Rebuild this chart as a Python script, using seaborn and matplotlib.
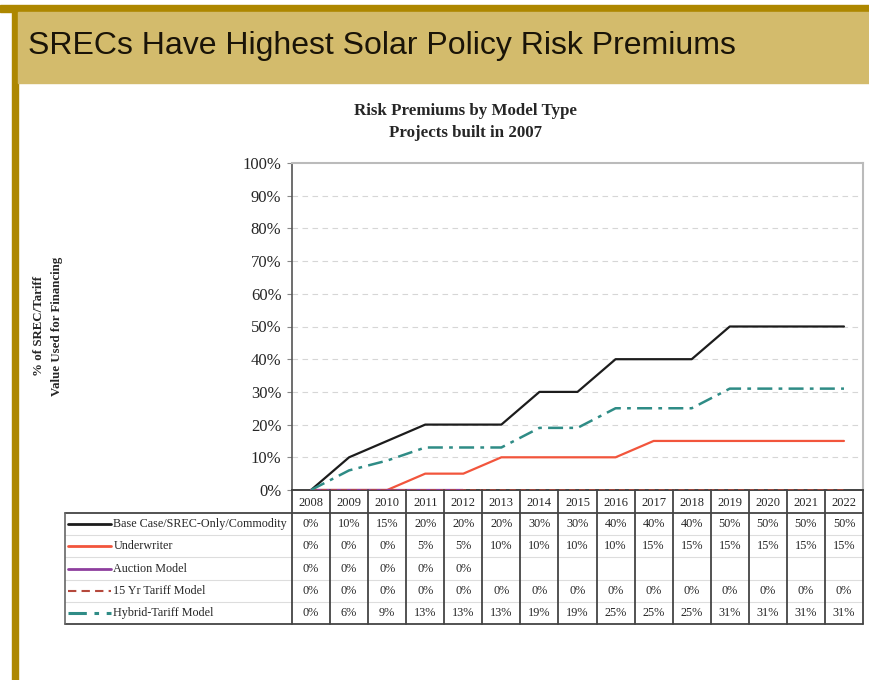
import numpy as np
import pandas as pd
import matplotlib
matplotlib.use("Agg")
import matplotlib.pyplot as plt
import seaborn as sns
from matplotlib.patches import Rectangle
from matplotlib.lines import Line2D

# --- data ---
years = [2008, 2009, 2010, 2011, 2012, 2013, 2014, 2015,
         2016, 2017, 2018, 2019, 2020, 2021, 2022]
base_case = [0, 10, 15, 20, 20, 20, 30, 30, 40, 40, 40, 50, 50, 50, 50]
underwriter = [0, 0, 0, 5, 5, 10, 10, 10, 10, 15, 15, 15, 15, 15, 15]
auction = [0, 0, 0, 0, 0]
tariff_15yr = [0, 0, 0, 0, 0, 0, 0, 0, 0, 0, 0, 0, 0, 0, 0]
hybrid = [0, 6, 9, 13, 13, 13, 19, 19, 25, 25, 25, 31, 31, 31, 31]

series_names = ["Base Case/SREC-Only/Commodity", "Underwriter", "Auction Model",
                "15 Yr Tariff Model", "Hybrid-Tariff Model"]
series_values = [base_case, underwriter, auction, tariff_15yr, hybrid]
series_colors = ["#1c1c1c", "#f2553c", "#8e3f9e", "#b5483c", "#2f8c86"]
series_dashes = ["solid", "solid", "solid", (0, (4, 2.5)), (0, (6, 2.5, 1.5, 2.5))]
series_widths = [1.6, 1.6, 1.6, 1.1, 1.8]

W, H = 870, 680


def fx(px):
    return px / W


def fy(py):
    return 1 - py / H


sns.set_style("white")
plt.rcParams["font.family"] = ["Liberation Serif", "DejaVu Serif"]

fig = plt.figure(figsize=(8.7, 6.8), dpi=100)

# gold header decorations
fig.patches.append(Rectangle((0, fy(12)), 1, fy(5) - fy(12), transform=fig.transFigure,
                             color="#ad8700", zorder=0))
fig.patches.append(Rectangle((fx(12), 0), fx(6), fy(12), transform=fig.transFigure,
                             color="#ad8700", zorder=0))
fig.patches.append(Rectangle((fx(18), fy(83)), 1 - fx(18), fy(12) - fy(83),
                             transform=fig.transFigure, color="#d3bb6c", zorder=0))
fig.text(fx(28), fy(46), "SRECs Have Highest Solar Policy Risk Premiums",
         family="Liberation Sans", fontsize=23, color="#1a1408", va="center", ha="left")

# chart axes
x0, x1 = 292, 863
ax = fig.add_axes([fx(x0), fy(490), fx(x1 - x0), fy(163) - fy(490)])
xpos = np.arange(len(years))
for name, vals, col, ls, lw in zip(series_names, series_values, series_colors,
                                   series_dashes, series_widths):
    df = pd.DataFrame({"x": xpos[:len(vals)], "y": vals})
    sns.lineplot(data=df, x="x", y="y", ax=ax, color=col, linestyle=ls, linewidth=lw,
                 zorder=3)

ax.set_xlim(-0.5, len(years) - 0.5)
ax.set_ylim(0, 100)
ax.set_xticks([])
ax.set_yticks(np.arange(0, 101, 10))
ax.set_yticklabels([f"{v}%" for v in range(0, 101, 10)], fontsize=12)
ax.tick_params(axis="y", left=True, length=3.6, color="#888888", pad=4)
for v in range(10, 100, 10):
    ax.axhline(v, color="#d6d6d6", lw=0.8, ls=(0, (5, 4)), zorder=1)
ax.set_xlabel("")
ax.set_ylabel("")
for s in ["top", "right"]:
    ax.spines[s].set_color("#bbbbbb")
    ax.spines[s].set_linewidth(1.5)
ax.spines["left"].set_color("#555555")
ax.spines["left"].set_linewidth(1.2)
ax.spines["bottom"].set_color("#222222")
ax.spines["bottom"].set_linewidth(1.2)

fig.text(fx(466), fy(122), "Risk Premiums by Model Type\nProjects built in 2007",
         ha="center", va="center", fontsize=12.2, fontweight="bold", linespacing=1.55)
fig.text(fx(48), fy(326), "% of SREC/Tariff\nValue Used for Financing", rotation=90,
         ha="center", va="center", fontsize=9.3, fontweight="bold", linespacing=1.6)

# data table
tab = fig.add_axes([fx(x0), fy(624), fx(x1 - x0), fy(490) - fy(624)])
tab.set_xlim(-0.5, len(years) - 0.5)
tab.set_ylim(624, 490)
tab.axis("off")
colw = (x1 - x0) / len(years)
xl = -0.5 - (x0 - 65) / colw
hdr_bot = 513
rowh = (624 - hdr_bot) / 5

for i, yr in enumerate(years):
    tab.text(i, (490 + hdr_bot) / 2 + 1, str(yr), ha="center", va="center", fontsize=9)
for r, (name, vals, col, ls, lw) in enumerate(zip(series_names, series_values, series_colors,
                                                  series_dashes, series_widths)):
    yc = hdr_bot + rowh * (r + 0.5)
    for i, v in enumerate(vals):
        tab.text(i, yc, f"{v}%", ha="center", va="center", fontsize=8.8)
    tab.add_line(Line2D([xl + 0.08, xl + 1.2], [yc, yc], color=col, linestyle=ls,
                        linewidth=lw + 0.4, clip_on=False))
    tab.text(xl + 1.27, yc, name, ha="left", va="center", fontsize=8.7, clip_on=False)
    if r > 0:
        tab.add_line(Line2D([xl, len(years) - 0.5], [hdr_bot + rowh * r] * 2,
                            color="#dddddd", lw=0.8, clip_on=False))

for i in range(len(years) + 1):
    tab.add_line(Line2D([i - 0.5, i - 0.5], [490, 624], color="#444444", lw=1.3,
                        clip_on=False))
tab.add_line(Line2D([xl, len(years) - 0.5], [hdr_bot, hdr_bot], color="#444444", lw=1.3,
                    clip_on=False))
tab.add_line(Line2D([xl, len(years) - 0.5], [624, 624], color="#444444", lw=1.3,
                    clip_on=False))
tab.add_line(Line2D([xl, xl], [hdr_bot, 624], color="#666666", lw=1.2, clip_on=False))

fig.savefig("out.png", dpi=100, facecolor="white")
